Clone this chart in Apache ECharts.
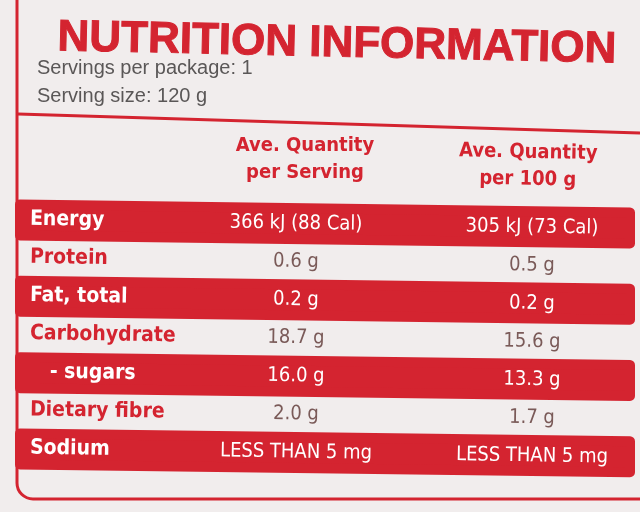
<!DOCTYPE html>
<html><head><meta charset="utf-8">
<script src="https://cdn.jsdelivr.net/npm/echarts@6/dist/echarts.min.js"></script>
<style>html,body{margin:0;padding:0;background:#f1eded}#c{width:640px;height:512px}</style>
</head><body><div id="c"></div>
<script>
const nutrients = ['Energy','Protein','Fat, total','Carbohydrate','   - sugars','Dietary fibre','Sodium'];
const perServing = ['366 kJ (88 Cal)','0.6 g','0.2 g','18.7 g','16.0 g','2.0 g','LESS THAN 5 mg'];
const per100g = ['305 kJ (73 Cal)','0.5 g','0.2 g','15.6 g','13.3 g','1.7 g','LESS THAN 5 mg'];
const banded = [1,0,1,0,1,0,1];
const RED = '#d42430';
const FONT = "'Liberation Sans Narrow','DejaVu Sans Condensed',sans-serif";
const slope = 0.016;
const chart = echarts.init(document.getElementById('c'));
const data = nutrients.map((n,i)=>[0,i]);
chart.setOption({
  backgroundColor:'#f1eded',
  animation:false,
  grid:{left:0,right:0,top:205,bottom:40},
  xAxis:{type:'value',min:0,max:640,show:false},
  yAxis:{type:'category',data:nutrients,inverse:true,show:false},
  graphic:[
    {type:'rect',shape:{x:17,y:-30,width:660,height:529,r:16},style:{fill:'none',stroke:RED,lineWidth:3}},
    {type:'text',x:58,y:16,rotation:-0.022,style:{text:'NUTRITION INFORMATION',font:"900 44px 'Liberation Sans','DejaVu Sans',sans-serif",fill:RED,stroke:RED,lineWidth:1}},
    {type:'text',x:37,y:58,style:{text:'Servings per package: 1',font:"20px 'Liberation Sans',sans-serif",fill:'#5a5757'}},
    {type:'text',x:37,y:86,style:{text:'Serving size: 120 g',font:"20px 'Liberation Sans',sans-serif",fill:'#5a5757'}},
    {type:'line',shape:{x1:18,y1:114,x2:640,y2:133},style:{stroke:RED,lineWidth:3}},
    {type:'text',x:305,y:159,style:{text:'Ave. Quantity\nper Serving',font:"bold 20px "+FONT,fill:RED,align:'center',verticalAlign:'middle',lineHeight:27}},
    {type:'text',x:528,y:166,rotation:-0.02,style:{text:'Ave. Quantity\nper 100 g',font:"bold 20px "+FONT,fill:RED,align:'center',verticalAlign:'middle',lineHeight:27}}
  ],
  series:[{
    type:'custom',
    data:data,
    renderItem:function(params,api){
      const i=api.value(1);
      const c=api.coord([0,i]);
      const y=c[1];
      const h=31;
      const yl=y-6, yr=y-6+slope*615;
      const kids=[];
      const b=banded[i];
      if(b){
        kids.push({type:'polygon',shape:{points:[[20,yl-h/2+2],[630,yr-h/2],[630,yr+h/2],[20,yl+h/2+2]]},
          style:{fill:RED,stroke:RED,lineWidth:10,lineJoin:'round'}});
      }
      const lab=b?'#fff':RED;
      const val=b?'#fff':'#7a5a58';
      const t=(x,txt,col,font,al)=>({type:'text',x:x,y:yl+slope*(x-20)+1,rotation:-slope,
        style:{text:txt,fill:col,font:font,align:al,verticalAlign:'middle'}});
      kids.push(t(30,nutrients[i],lab,"bold 21px "+FONT,'left'));
      kids.push(t(296,perServing[i],val,"20px "+FONT,'center'));
      kids.push(t(532,per100g[i],val,"20px "+FONT,'center'));
      return {type:'group',children:kids};
    }
  }]
});
</script></body></html>
